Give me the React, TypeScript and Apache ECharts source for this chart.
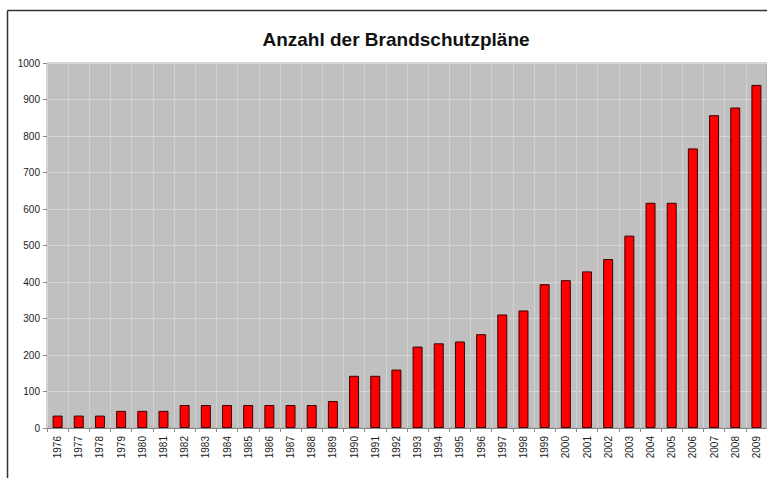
import React, { useEffect, useRef } from "react";
import * as echarts from "echarts";

const years = [
  "1976", "1977", "1978", "1979", "1980", "1981", "1982", "1983", "1984", "1985",
  "1986", "1987", "1988", "1989", "1990", "1991", "1992", "1993", "1994", "1995",
  "1996", "1997", "1998", "1999", "2000", "2001", "2002", "2003", "2004", "2005",
  "2006", "2007", "2008", "2009",
];
const counts = [
  34, 34, 34, 47, 47, 47, 63, 63, 63, 63,
  63, 63, 63, 74, 143, 143, 160, 223, 232, 237,
  257, 311, 322, 394, 405, 429, 463, 527, 617, 617,
  766, 857, 878, 940,
];
const titleText = "Anzahl der Brandschutzpläne";
const yMin = 0;
const yMax = 1000;
const yStep = 100;

export default function App() {
  const ref = useRef<HTMLDivElement>(null);
  useEffect(() => {
    if (!ref.current) return;
    const chart = echarts.init(ref.current, null, { renderer: "svg" });
    chart.setOption({
      animation: false,
      backgroundColor: "#ffffff",
      textStyle: { fontFamily: "Liberation Sans, Arial, sans-serif" },
      title: {
        text: titleText,
        left: 391,
        top: 25,
        textAlign: "center",
        textStyle: {
          fontFamily: "Liberation Sans, Arial, sans-serif",
          fontSize: 19,
          fontWeight: "bold",
          color: "#111",
        },
      },
      graphic: [
        {
          type: "line",
          shape: { x1: 7.5, y1: 10.5, x2: 767, y2: 10.5 },
          style: { stroke: "#333", lineWidth: 1.5 },
          z: 100,
        },
        {
          type: "line",
          shape: { x1: 7.5, y1: 10.5, x2: 7.5, y2: 478 },
          style: { stroke: "#333", lineWidth: 1.5 },
          z: 100,
        },
      ],
      grid: {
        left: 47,
        top: 63,
        width: 723,
        height: 365,
        show: true,
        backgroundColor: "#c0c0c0",
        borderColor: "#a8a8a8",
        borderWidth: 1,
      },
      xAxis: {
        type: "category",
        data: years,
        axisLine: { show: true, lineStyle: { color: "#888", width: 1 } },
        axisTick: { show: true, length: 4, lineStyle: { color: "#888" } },
        axisLabel: {
          rotate: 90,
          fontSize: 10,
          color: "#222",
          margin: 8,
          interval: 0,
        },
        splitLine: { show: true, lineStyle: { color: "#d2d2d2", width: 1 } },
      },
      yAxis: {
        type: "value",
        min: yMin,
        max: yMax,
        interval: yStep,
        axisLine: { show: false },
        axisTick: { show: true, length: 4, lineStyle: { color: "#888" } },
        axisLabel: {
          fontSize: 10,
          color: "#222",
          margin: 7,
          formatter: (v: number) => String(v),
        },
        splitLine: { show: true, lineStyle: { color: "#d6d6d6", width: 1 } },
      },
      series: [
        {
          type: "bar",
          data: counts,
          barWidth: 10,
          itemStyle: { color: "#ff0000", borderColor: "#3a0000", borderWidth: 1 },
        },
      ],
    });
    return () => chart.dispose();
  }, []);
  return (
    <div
      ref={ref}
      style={{ position: "fixed", left: 0, top: 0, width: 767, height: 478, overflow: "hidden" }}
    />
  );
}
